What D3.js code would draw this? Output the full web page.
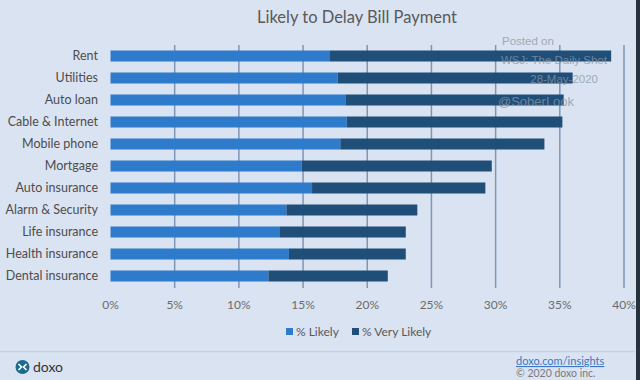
<!DOCTYPE html>
<html lang="en">
<head>
    <meta charset="UTF-8">
    <title>Likely to Delay Bill Payment</title>
    <script src="https://d3js.org/d3.v7.min.js"></script>
    <style>
        body { margin: 0; background: #dae3f1; }
        svg { display: block; font-family: Lato, "Open Sans", sans-serif; }
        .cat-label { font-size: 12.5px; fill: #4d4d4d; text-anchor: end; }
        .tick-label { font-size: 12px; fill: #6b6b6b; text-anchor: middle; }
        .grid-line { stroke: #7f96b4; stroke-width: 1.5; }
        .chart-title { font-size: 16.5px; fill: #595959; text-anchor: middle; }
        .legend-label { font-size: 12px; fill: #595959; }
        .watermark { font-family: "Liberation Sans", Arial, sans-serif; font-size: 11.5px; fill: #8c96a3; opacity: 0.75; }
    </style>
</head>
<body>
    <script>
        const categories = ['Rent', 'Utilities', 'Auto loan', 'Cable & Internet', 'Mobile phone',
            'Mortgage', 'Auto insurance', 'Alarm & Security', 'Life insurance',
            'Health insurance', 'Dental insurance'];
        const likely = [17.1, 17.7, 18.3, 18.4, 17.9, 14.9, 15.7, 13.7, 13.2, 13.9, 12.3];
        const veryLikely = [21.9, 18.3, 17.0, 16.8, 15.9, 14.8, 13.5, 10.2, 9.8, 9.1, 9.3];
        const tickValues = [0, 5, 10, 15, 20, 25, 30, 35, 40];
        const seriesNames = ['% Likely', '% Very Likely'];
        const colors = ['#2e7bcb', '#1f4e79'];

        const svg = d3.select('body').append('svg')
            .attr('width', 640)
            .attr('height', 380);

        svg.append('rect')
            .attr('width', 640).attr('height', 380)
            .attr('fill', '#dae3f1');

        // dark edge on the right of the screenshot
        svg.append('rect')
            .attr('x', 636).attr('y', 0)
            .attr('width', 4).attr('height', 380)
            .attr('fill', '#27323f');

        const xScale = d3.scaleLinear()
            .domain([0, 40])
            .range([110.5, 624]);

        const yScale = d3.scaleBand()
            .domain(categories)
            .range([45, 287])
            .paddingInner(0.5)
            .paddingOuter(0.25);

        svg.append('text')
            .attr('class', 'chart-title')
            .attr('x', 357)
            .attr('y', 23)
            .text('Likely to Delay Bill Payment');

        // vertical grid lines
        svg.selectAll('.grid-line')
            .data(tickValues.slice(1))
            .enter().append('line')
            .attr('class', 'grid-line')
            .attr('x1', d => xScale(d))
            .attr('x2', d => xScale(d))
            .attr('y1', 45)
            .attr('y2', 288);

        const rows = categories.map((c, i) => ({ cat: c, a: likely[i], b: veryLikely[i] }));

        svg.selectAll('.bar-likely')
            .data(rows)
            .enter().append('rect')
            .attr('class', 'bar-likely')
            .attr('x', xScale(0))
            .attr('y', d => yScale(d.cat))
            .attr('width', d => xScale(d.a) - xScale(0))
            .attr('height', yScale.bandwidth())
            .attr('fill', colors[0]);

        svg.selectAll('.bar-very')
            .data(rows)
            .enter().append('rect')
            .attr('class', 'bar-very')
            .attr('x', d => xScale(d.a))
            .attr('y', d => yScale(d.cat))
            .attr('width', d => xScale(d.a + d.b) - xScale(d.a))
            .attr('height', yScale.bandwidth())
            .attr('fill', colors[1]);

        svg.selectAll('.cat-label')
            .data(categories)
            .enter().append('text')
            .attr('class', 'cat-label')
            .attr('x', 98)
            .attr('y', d => yScale(d) + yScale.bandwidth() / 2)
            .attr('dy', '0.35em')
            .text(d => d);

        svg.selectAll('.tick-label')
            .data(tickValues)
            .enter().append('text')
            .attr('class', 'tick-label')
            .attr('x', d => xScale(d))
            .attr('y', 309)
            .text(d => d + '%');

        // legend
        const legend = svg.append('g').attr('transform', 'translate(286,327)');
        const legendX = [0, 66];
        seriesNames.forEach((name, i) => {
            legend.append('rect')
                .attr('x', legendX[i]).attr('y', 1)
                .attr('width', 7).attr('height', 7)
                .attr('fill', colors[i]);
            legend.append('text')
                .attr('class', 'legend-label')
                .attr('x', legendX[i] + 10).attr('y', 9)
                .text(name);
        });

        // watermark
        const wm = [['Posted on', 502, 45, 'start'], ['WSJ: The Daily Shot', 501, 64, 'start'],
            ['28-May-2020', 598, 83, 'end'], ['@SoberLook', 498, 106, 'start']];
        svg.selectAll('.watermark')
            .data(wm)
            .enter().append('text')
            .attr('class', 'watermark')
            .attr('x', d => d[1]).attr('y', d => d[2])
            .attr('text-anchor', d => d[3])
            .style('font-size', (d, i) => i === 3 ? '13px' : null)
            .text(d => d[0]);

        // footer
        svg.append('line')
            .attr('x1', 0).attr('x2', 635)
            .attr('y1', 351.5).attr('y2', 351.5)
            .attr('stroke', '#c3d1e6').attr('stroke-width', 1.5);

        const logo = svg.append('g').attr('transform', 'translate(22.5,367)');
        logo.append('circle').attr('r', 7).attr('fill', '#1c6b8f');
        logo.append('path')
            .attr('d', 'M-4,-3 L-1,0 L-4,3 M4,-3 L1,0 L4,3')
            .attr('stroke', '#ffffff').attr('stroke-width', 1.6).attr('fill', 'none');
        svg.append('text')
            .attr('x', 33).attr('y', 372)
            .attr('font-size', 14).attr('fill', '#333333')
            .text('doxo');

        svg.append('text')
            .attr('x', 516).attr('y', 365)
            .attr('font-size', 11).attr('fill', '#3a78c4')
            .attr('text-decoration', 'underline')
            .text('doxo.com/insights');
        svg.append('text')
            .attr('x', 516).attr('y', 377)
            .attr('font-size', 10.5).attr('fill', '#7a7a7a')
            .text('© 2020 doxo inc.');
    </script>
</body>
</html>
